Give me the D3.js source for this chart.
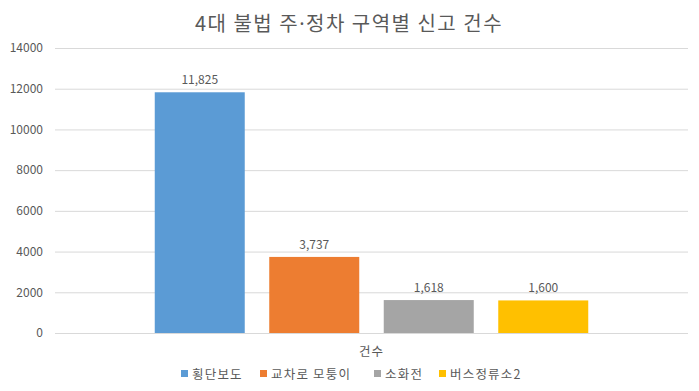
<!DOCTYPE html>
<html>
<head>
<meta charset="utf-8">
<script src="https://cdn.jsdelivr.net/npm/d3@7"></script>
<style>
  body { margin: 0; background: #fff; }
  text { font-family: "Noto Sans CJK KR", "Noto Sans", sans-serif; fill: #595959; }
</style>
</head>
<body>
<div id="chart"></div>
<script>
const categories = ['건수'];
const seriesNames = ['횡단보도', '교차로 모퉁이', '소화전', '버스정류소2'];
const seriesValues = [11825, 3737, 1618, 1600];
const seriesColors = ['#5b9bd5', '#ed7d31', '#a5a5a5', '#ffc000'];
const yTicks = [0, 2000, 4000, 6000, 8000, 10000, 12000, 14000];

const W = 699, H = 391;
const plotLeft = 55, plotRight = 688, plotTop = 48, plotBottom = 333;

const svg = d3.select('#chart').append('svg')
  .attr('width', W).attr('height', H);

const yScale = d3.scaleLinear().domain([0, 14000]).range([plotBottom, plotTop]);

const xScale = d3.scaleBand().domain(categories).range([plotLeft, plotRight]);

// bars sit in a cluster centred in the category band
const clusterW = 433.5;
const inner = d3.scaleBand()
  .domain(seriesNames)
  .range([(xScale.bandwidth() - clusterW) / 2, (xScale.bandwidth() + clusterW) / 2])
  .paddingInner(0.214)
  .paddingOuter(0);

// grid
svg.append('g')
  .attr('transform', `translate(${plotLeft}, 0)`)
  .call(d3.axisLeft(yScale).tickValues(yTicks).tickSize(-(plotRight - plotLeft)).tickFormat(''))
  .call(g => g.select('.domain').remove())
  .call(g => g.selectAll('line').attr('stroke', '#d9d9d9').attr('stroke-width', 1));

// y labels
svg.append('g')
  .attr('transform', `translate(43, 0)`)
  .call(d3.axisLeft(yScale).tickValues(yTicks).tickSize(0).tickPadding(0).tickFormat(d3.format('d')))
  .call(g => g.select('.domain').remove())
  .call(g => g.selectAll('text').attr('font-size', 12).attr('font-family', null).style('fill', '#595959'));

const bars = svg.append('g').selectAll('g')
  .data(seriesNames.map((n, i) => ({ name: n, value: seriesValues[i], color: seriesColors[i] })))
  .enter().append('g');

bars.append('rect')
  .attr('x', d => xScale(categories[0]) + inner(d.name))
  .attr('y', d => yScale(d.value))
  .attr('width', inner.bandwidth())
  .attr('height', d => plotBottom - yScale(d.value))
  .attr('fill', d => d.color);

bars.append('text')
  .attr('x', d => xScale(categories[0]) + inner(d.name) + inner.bandwidth() / 2)
  .attr('y', d => yScale(d.value) - 8)
  .attr('text-anchor', 'middle')
  .attr('font-size', 12)
  .text(d => d3.format(',')(d.value));

// category label
svg.append('text')
  .attr('x', xScale(categories[0]) + xScale.bandwidth() / 2)
  .attr('y', 356)
  .attr('text-anchor', 'middle')
  .attr('font-size', 12.5)
  .attr('letter-spacing', 1)
  .text(categories[0]);

// title (narrow middle dot from the latin font)
const title = svg.append('text')
  .attr('x', 349)
  .attr('y', 31)
  .attr('text-anchor', 'middle')
  .attr('font-size', 20)
  .attr('letter-spacing', 1.5);
title.append('tspan').text('4대 불법 주');
title.append('tspan').style('font-family', '"Noto Sans", sans-serif').text('·');
title.append('tspan').text('정차 구역별 신고 건수');

// legend
const legendX = [181, 260, 374, 439];
const legend = svg.append('g').selectAll('g')
  .data(seriesNames)
  .enter().append('g')
  .attr('transform', (d, i) => `translate(${legendX[i]}, 379)`);

legend.append('rect')
  .attr('x', 0).attr('y', -9)
  .attr('width', 7).attr('height', 7)
  .attr('fill', (d, i) => seriesColors[i]);

legend.append('text')
  .attr('x', 11).attr('y', 0)
  .attr('font-size', 12.5)
  .attr('letter-spacing', 1.2)
  .text(d => d);
</script>
</body>
</html>
